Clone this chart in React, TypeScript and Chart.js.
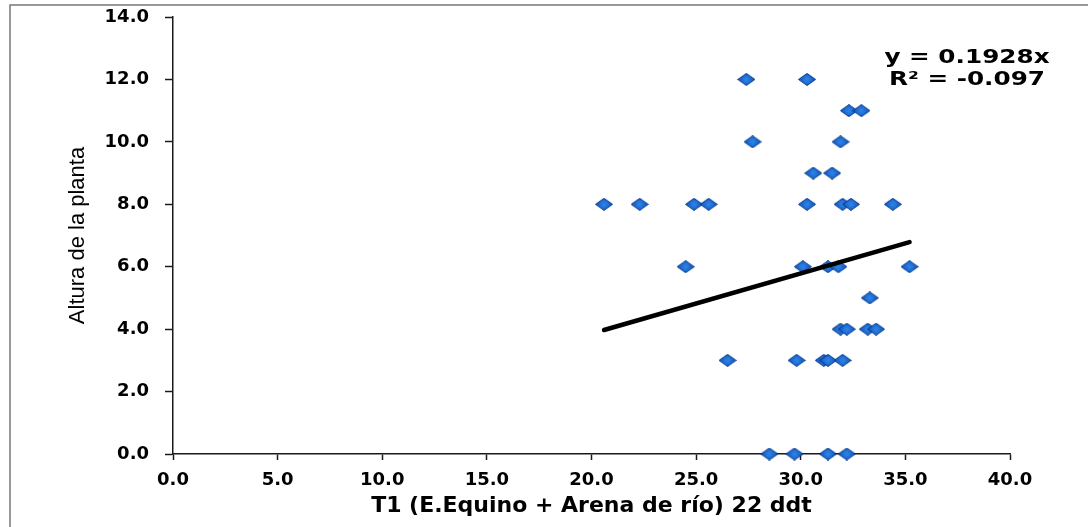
import React, { useEffect, useRef } from 'react';
import { Chart, registerables } from 'chart.js';

Chart.register(...registerables);

// ---- Data ----
const xValues = [
  27.4, 30.3,
  32.3, 32.9,
  27.7, 31.9,
  30.6, 31.5,
  20.6, 22.3, 24.9, 25.6, 30.3, 32.0, 32.4, 34.4,
  24.5, 30.1, 31.3, 31.8, 35.2,
  33.3,
  31.9, 32.2, 33.2, 33.6,
  26.5, 29.8, 31.1, 31.3, 32.0,
  28.5, 29.7, 31.3, 32.2,
];
const yValues = [
  12, 12,
  11, 11,
  10, 10,
  9, 9,
  8, 8, 8, 8, 8, 8, 8, 8,
  6, 6, 6, 6, 6,
  5,
  4, 4, 4, 4,
  3, 3, 3, 3, 3,
  0, 0, 0, 0,
];
const trendSlope = 0.1928;
const equationLines = ['y = 0.1928x', 'R² = -0.097'];
const xAxisRange = [0, 40];
const xAxisStep = 5;
const yAxisRange = [0, 14];
const yAxisStep = 2;
const xAxisTitle = 'T1 (E.Equino + Arena de río) 22 ddt';
const yAxisTitle = 'Altura de la planta';

function makeDiamond(): HTMLCanvasElement {
  const c = document.createElement('canvas');
  const w = 18;
  const h = 13;
  c.width = w;
  c.height = h;
  const g = c.getContext('2d')!;
  g.beginPath();
  g.moveTo(w / 2, 0.5);
  g.lineTo(w - 0.5, h / 2);
  g.lineTo(w / 2, h - 0.5);
  g.lineTo(0.5, h / 2);
  g.closePath();
  const grad = g.createRadialGradient(w / 2, h / 2, 1, w / 2, h / 2, w / 2);
  grad.addColorStop(0, '#2b80e6');
  grad.addColorStop(1, '#0c4fb2');
  g.fillStyle = grad;
  g.fill();
  g.strokeStyle = '#08398a';
  g.lineWidth = 1;
  g.stroke();
  return c;
}

const frameBorder = {
  id: 'frameBorder',
  beforeDraw(chart: any) {
    const ctx = chart.ctx;
    ctx.save();
    ctx.strokeStyle = '#777777';
    ctx.lineWidth = 1.5;
    ctx.strokeRect(10, 5, 3000, 3000);
    ctx.restore();
  },
};

const equationLabel = {
  id: 'equationLabel',
  afterDraw(chart: any) {
    const ctx = chart.ctx;
    ctx.save();
    ctx.fillStyle = '#000';
    ctx.font = 'bold 19px "DejaVu Sans"';
    ctx.textAlign = 'center';
    ctx.textBaseline = 'alphabetic';
    const cx = 967;
    const baselines = [63, 85];
    equationLines.forEach((t, i) => {
      ctx.save();
      ctx.translate(cx, baselines[i]);
      ctx.scale(1.3, 1);
      ctx.fillText(t, 0, 0);
      ctx.restore();
    });
    ctx.restore();
  },
};

export default function App() {
  const ref = useRef<HTMLCanvasElement | null>(null);

  useEffect(() => {
    if (!ref.current) return;
    const diamond = makeDiamond();
    const points = xValues.map((x, i) => ({ x, y: yValues[i] }));
    const minX = Math.min(...xValues);
    const maxX = Math.max(...xValues);
    const trend = [
      { x: minX, y: trendSlope * minX },
      { x: maxX, y: trendSlope * maxX },
    ];
    const tickFont = { family: '"DejaVu Sans"', weight: 'bold' as const, size: 18 };
    const axisColor = '#1a1a1a';

    const chart = new Chart(ref.current, {
      type: 'scatter',
      data: {
        datasets: [
          {
            type: 'line',
            data: trend,
            borderColor: '#000',
            borderWidth: 4.5,
            pointRadius: 0,
            fill: false,
            order: 0,
            borderCapStyle: 'round',
          } as any,
          {
            type: 'scatter',
            data: points,
            pointStyle: diamond as any,
            pointRadius: 8,
            clip: false,
            order: 1,
          } as any,
        ],
      },
      options: {
        animation: false,
        responsive: false,
        layout: { padding: { left: 0, right: 78, top: 17, bottom: 0 } },
        plugins: {
          legend: { display: false },
          tooltip: { enabled: false },
        },
        scales: {
          x: {
            type: 'linear',
            min: xAxisRange[0],
            max: xAxisRange[1],
            afterFit: (s: any) => {
              s.height = 73;
            },
            border: { display: true, color: axisColor, width: 1.5 },
            grid: {
              drawOnChartArea: false,
              drawTicks: true,
              tickLength: 6,
              tickColor: axisColor,
              tickWidth: 1.5,
            },
            ticks: {
              stepSize: xAxisStep,
              padding: 10,
              color: '#000',
              font: tickFont,
              maxRotation: 0,
              autoSkip: false,
              callback: (v: any) => Number(v).toFixed(1),
            },
            title: {
              display: true,
              text: xAxisTitle,
              color: '#000',
              font: { family: '"DejaVu Sans"', weight: 'bold', size: 22 },
              padding: { top: 0, bottom: 8 },
            },
          },
          y: {
            type: 'linear',
            min: yAxisRange[0],
            max: yAxisRange[1],
            afterFit: (s: any) => {
              s.width = 173;
              s.paddingTop = 0;
              s.paddingBottom = 0;
            },
            border: { display: true, color: axisColor, width: 1.5 },
            grid: {
              drawOnChartArea: false,
              drawTicks: true,
              tickLength: 8,
              tickColor: axisColor,
              tickWidth: 1.5,
            },
            ticks: {
              stepSize: yAxisStep,
              padding: 16,
              color: '#000',
              font: tickFont,
              callback: (v: any) => Number(v).toFixed(1),
            },
            title: {
              display: true,
              text: yAxisTitle,
              color: '#000',
              font: { family: '"Liberation Sans"', weight: 'normal', size: 22 },
              padding: { top: 65, bottom: 0 },
            },
          },
        },
      },
      plugins: [frameBorder, equationLabel],
    });

    return () => chart.destroy();
  }, []);

  return (
    <div style={{ position: 'absolute', left: 0, top: 0, width: 1088, height: 527, background: '#fff' }}>
      <canvas ref={ref} width={1088} height={527} style={{ display: 'block' }} />
    </div>
  );
}
